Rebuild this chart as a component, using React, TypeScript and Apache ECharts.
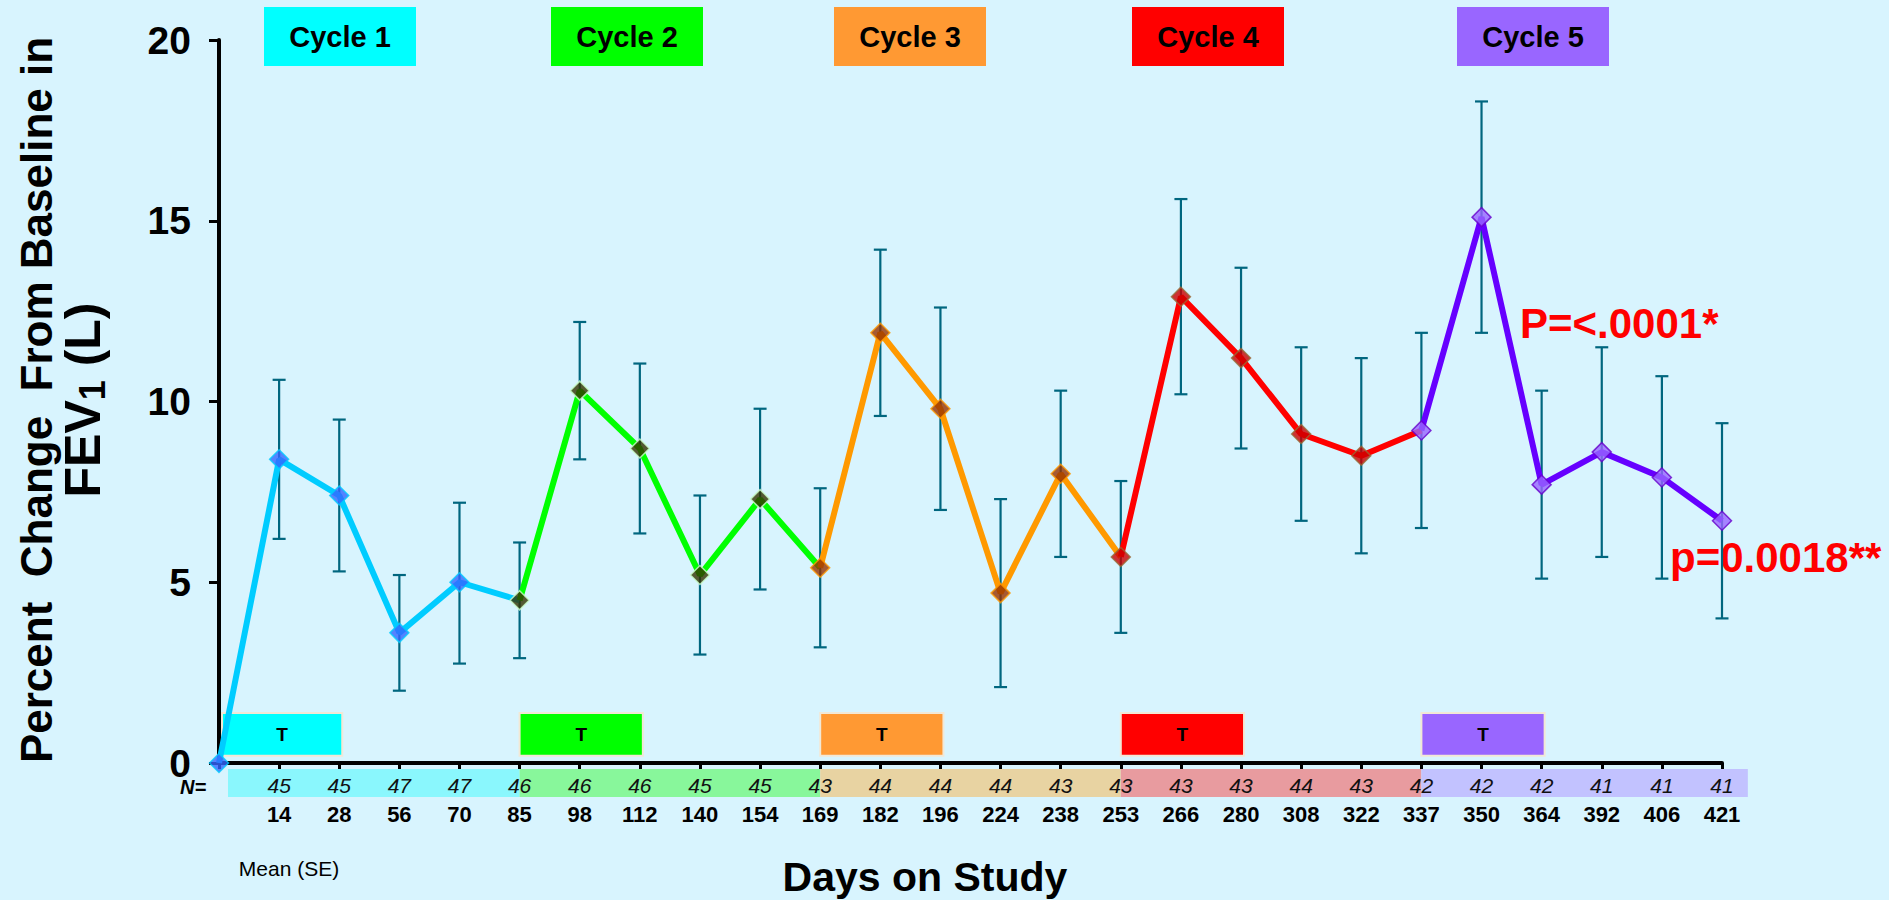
import React, { useEffect, useRef } from "react";
import * as echarts from "echarts";

// ---------- data ----------
const days = ["0", "14", "28", "56", "70", "85", "98", "112", "140", "154", "169", "182", "196", "224", "238", "253", "266", "280", "308", "322", "337", "350", "364", "392", "406", "421"];
const meanChange = [0, 8.4, 7.4, 3.6, 5.0, 4.5, 10.3, 8.7, 5.2, 7.3, 5.4, 11.9, 9.8, 4.7, 8.0, 5.7, 12.9, 11.2, 9.1, 8.5, 9.2, 15.1, 7.7, 8.6, 7.9, 6.7];
const upperSE = [null, 10.6, 9.5, 5.2, 7.2, 6.1, 12.2, 11.05, 7.4, 9.8, 7.6, 14.2, 12.6, 7.3, 10.3, 7.8, 15.6, 13.7, 11.5, 11.2, 11.9, 18.3, 10.3, 11.5, 10.7, 9.4];
const lowerSE = [null, 6.2, 5.3, 2.0, 2.75, 2.9, 8.4, 6.35, 3.0, 4.8, 3.2, 9.6, 7.0, 2.1, 5.7, 3.6, 10.2, 8.7, 6.7, 5.8, 6.5, 11.9, 5.1, 5.7, 5.1, 4.0];
const nCounts = [null, 45, 45, 47, 47, 46, 46, 46, 45, 45, 43, 44, 44, 44, 43, 43, 43, 43, 44, 43, 42, 42, 42, 41, 41, 41];

const cycleNames = ["Cycle 1", "Cycle 2", "Cycle 3", "Cycle 4", "Cycle 5"];
const cycleStart = [0, 5, 10, 15, 20];
const cycleEnd = [5, 10, 15, 20, 25];
const yTicks = [0, 5, 10, 15, 20];

// ---------- styles ----------
const lineColors = ["#00CCFF", "#00FF00", "#FF9900", "#FF0000", "#6600FF"];
const headerColors = ["#00FFFF", "#00FF00", "#FF9933", "#FF0000", "#9966FF"];
const markerFill = ["#3366FF", "#333300", "#993300", "#CC0000", "#9966FF"];
const markerBorder = ["#00CCFF", "#CCFFCC", "#FF9900", "#996633", "#6600CC"];
const bandColors = ["#8AF7FD", "#88F79B", "#E8D3A2", "#E89B9F", "#C2C2FF"];
const FONT = "'Liberation Sans', Arial, sans-serif";

function cycleOf(i: number) {
  return Math.min(Math.floor(i / 5), 4);
}

export default function App() {
  const ref = useRef<HTMLDivElement>(null);

  useEffect(() => {
    if (!ref.current) return;
    const chart = echarts.init(ref.current, undefined, { renderer: "svg" });

    const lineSeries = cycleNames.map((name, c) => ({
      name,
      type: "line",
      z: 3,
      showSymbol: false,
      symbol: "none",
      lineStyle: { color: lineColors[c], width: 6 },
      data: meanChange.map((v, i) => (i >= cycleStart[c] && i <= cycleEnd[c] ? v : "-")),
    }));

    const markerData = meanChange.map((v, i) => ({
      value: [i, v],
      itemStyle: { color: markerFill[cycleOf(i)], borderColor: markerBorder[cycleOf(i)], borderWidth: 1.5 },
    }));

    const errorData = meanChange
      .map((_, i) => (upperSE[i] == null ? null : [i, upperSE[i], lowerSE[i]]))
      .filter((d) => d !== null);

    const option: any = {
      animation: false,
      backgroundColor: "#D8F4FE",
      textStyle: { fontFamily: FONT },
      grid: { left: 219, right: 167, top: 40, bottom: 137, containLabel: false },
      xAxis: {
        type: "category",
        data: days,
        boundaryGap: false,
        axisLine: { show: true, onZero: false, lineStyle: { color: "#000", width: 4 } },
        axisTick: { show: true, length: 6, lineStyle: { color: "#000", width: 3 } },
        splitLine: { show: false },
        axisLabel: {
          interval: 0,
          margin: 8,
          formatter: (val: string, idx: number) => (idx === 0 ? "" : `{n|${nCounts[idx]}}\n{d|${val}}`),
          rich: {
            n: { fontFamily: FONT, fontStyle: "italic", fontSize: 21, color: "#111", lineHeight: 28 },
            d: { fontFamily: FONT, fontWeight: "bold", fontSize: 22, color: "#000", lineHeight: 30 },
          },
        },
      },
      yAxis: {
        type: "value",
        min: yTicks[0],
        max: yTicks[yTicks.length - 1],
        interval: 5,
        axisLine: { show: true, lineStyle: { color: "#000", width: 4 } },
        axisTick: { show: true, length: 10, lineStyle: { color: "#000", width: 3 } },
        splitLine: { show: false },
        axisLabel: { fontFamily: FONT, fontWeight: "bold", fontSize: 39, color: "#000", margin: 28 },
      },
      series: [
        {
          type: "custom",
          z: 1,
          renderItem: (params: any, api: any) => {
            const x = api.value(0);
            const hi = api.coord([x, api.value(1)]);
            const lo = api.coord([x, api.value(2)]);
            const w = 6.5;
            const style = { stroke: "#00667F", lineWidth: 2.2 };
            return {
              type: "group",
              children: [
                { type: "line", shape: { x1: hi[0], y1: hi[1], x2: lo[0], y2: lo[1] }, style },
                { type: "line", shape: { x1: hi[0] - w, y1: hi[1], x2: hi[0] + w, y2: hi[1] }, style },
                { type: "line", shape: { x1: lo[0] - w, y1: lo[1], x2: lo[0] + w, y2: lo[1] }, style },
              ],
            };
          },
          encode: { x: 0, y: [1, 2] },
          data: errorData,
        },
        ...lineSeries,
        {
          type: "scatter",
          z: 5,
          symbol: "diamond",
          symbolSize: 19,
          data: markerData,
        },
      ],
    };

    chart.setOption(option);

    const px = (i: number, v: number) => chart.convertToPixel({ xAxisIndex: 0, yAxisIndex: 0 }, [i, v]) as number[];
    const step = px(1, 0)[0] - px(0, 0)[0];
    const graphics: any[] = [];

    // N= bands under axis
    cycleStart.forEach((s, c) => {
      const x0 = px(s, 0)[0] + (c === 0 ? 9 : 0);
      const x1 = px(cycleEnd[c], 0)[0] + (c === 4 ? step * 0.43 : 0);
      graphics.push({
        type: "rect",
        z: -1,
        shape: { x: x0, y: 769, width: x1 - x0, height: 28 },
        style: { fill: bandColors[c] },
        silent: true,
      });
    });

    // T boxes
    cycleStart.forEach((s, c) => {
      const a = px(s, 1.38);
      const b = px(s + 2, 0.2);
      const x0 = a[0] + (c === 0 ? 3 : 0);
      const x1 = b[0] + 3;
      graphics.push({
        type: "group",
        z: 10,
        children: [
          {
            type: "rect",
            shape: { x: x0, y: a[1], width: x1 - x0, height: b[1] - a[1] },
            style: { fill: headerColors[c], stroke: "#F2E8D6", lineWidth: 2 },
          },
          {
            type: "text",
            x: (x0 + x1) / 2,
            y: (a[1] + b[1]) / 2,
            style: { text: "T", fontFamily: FONT, fontWeight: "bold", fontSize: 19, fill: "#000", align: "center", verticalAlign: "middle" },
          },
        ],
      });
    });

    // Cycle header boxes
    const headerCenters = [340, 627, 910, 1208, 1533];
    cycleNames.forEach((name, c) => {
      graphics.push({
        type: "group",
        z: 10,
        children: [
          { type: "rect", shape: { x: headerCenters[c] - 76, y: 7, width: 152, height: 59 }, style: { fill: headerColors[c] } },
          {
            type: "text",
            x: headerCenters[c],
            y: 37,
            style: { text: name, fontFamily: FONT, fontWeight: "bold", fontSize: 29, fill: "#000", align: "center", verticalAlign: "middle" },
          },
        ],
      });
    });

    // Y axis title (two lines, rotated)
    graphics.push({
      type: "text",
      x: 36,
      y: 400,
      rotation: Math.PI / 2,
      style: { text: "Percent  Change  From Baseline in", fontFamily: FONT, fontWeight: "bold", fontSize: 44, fill: "#000", align: "center", verticalAlign: "middle" },
    });
    graphics.push({
      type: "text",
      x: 83,
      y: 400,
      rotation: Math.PI / 2,
      style: {
        text: "{m|FEV}{s|1}{m| (L)}",
        align: "center",
        verticalAlign: "middle",
        rich: {
          m: { fontFamily: FONT, fontWeight: "bold", fontSize: 50, fill: "#000", lineHeight: 54, verticalAlign: "middle" },
          s: { fontFamily: FONT, fontWeight: "bold", fontSize: 36, fill: "#000", lineHeight: 54, verticalAlign: "bottom" },
        },
      },
    });

    // N= and footer texts
    graphics.push({
      type: "text",
      x: 193,
      y: 787,
      style: { text: "N=", fontFamily: FONT, fontWeight: "bold", fontStyle: "italic", fontSize: 20, fill: "#000", align: "center", verticalAlign: "middle" },
    });
    graphics.push({
      type: "text",
      x: 289,
      y: 868,
      style: { text: "Mean (SE)", fontFamily: FONT, fontSize: 21, fill: "#000", align: "center", verticalAlign: "middle" },
    });
    graphics.push({
      type: "text",
      x: 925,
      y: 877,
      style: { text: "Days on Study", fontFamily: FONT, fontWeight: "bold", fontSize: 41, fill: "#000", align: "center", verticalAlign: "middle" },
    });

    // P-value annotations
    graphics.push({
      type: "text",
      x: 1520,
      y: 323,
      style: { text: "P=<.0001*", fontFamily: FONT, fontWeight: "bold", fontSize: 42, fill: "#FF0000", align: "left", verticalAlign: "middle" },
    });
    graphics.push({
      type: "text",
      x: 1670,
      y: 557,
      style: { text: "p=0.0018**", fontFamily: FONT, fontWeight: "bold", fontSize: 42, fill: "#FF0000", align: "left", verticalAlign: "middle" },
    });

    chart.setOption({ graphic: graphics });

    return () => chart.dispose();
  }, []);

  return <div ref={ref} style={{ position: "fixed", left: 0, top: 0, width: 1889, height: 900 }} />;
}
